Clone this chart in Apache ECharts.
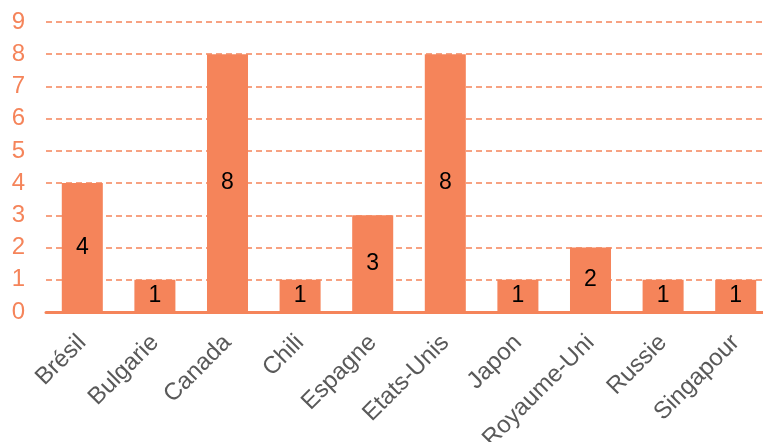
<!DOCTYPE html>
<html><head><meta charset="utf-8">
<script src="https://cdn.jsdelivr.net/npm/echarts@6/dist/echarts.min.js"></script>
<style>html,body{margin:0;padding:0;background:#fff}#c{width:763px;height:442px}</style>
</head><body><div id="c"></div>
<script>
const categories = ["Brésil","Bulgarie","Canada","Chili","Espagne","Etats-Unis","Japon","Royaume-Uni","Russie","Singapour"];
const values = [4,1,8,1,3,8,1,2,1,1];
const yTicks = [0,1,2,3,4,5,6,7,8,9];
const orange = '#F5845A';
const chart = echarts.init(document.getElementById('c'), null, {renderer:'canvas'});
chart.setOption({
  animation:false,
  grid:{left:46, top:22, width:726, height:290, containLabel:false, outerBoundsMode:'none'},
  xAxis:{type:'category', data:categories,
    axisLine:{lineStyle:{color:orange,width:3}}, axisTick:{show:false},
    axisLabel:{rotate:45, color:'#595959', fontSize:24, fontFamily:'Liberation Sans', margin:27, interval:0}},
  yAxis:{type:'value', min:yTicks[0], max:yTicks[yTicks.length-1], interval:1,
    axisLine:{show:false}, axisTick:{show:false},
    splitLine:{lineStyle:{color:orange, type:[6,4], width:1.5}},
    axisLabel:{color:orange, fontSize:24, fontFamily:'Liberation Sans', margin:21}},
  series:[{type:'bar', data:values, barCategoryGap:'43.5%',
    itemStyle:{color:orange},
    label:{show:true, position:'inside', color:'#000', fontSize:23, fontFamily:'Liberation Sans'}}]
});
</script></body></html>
